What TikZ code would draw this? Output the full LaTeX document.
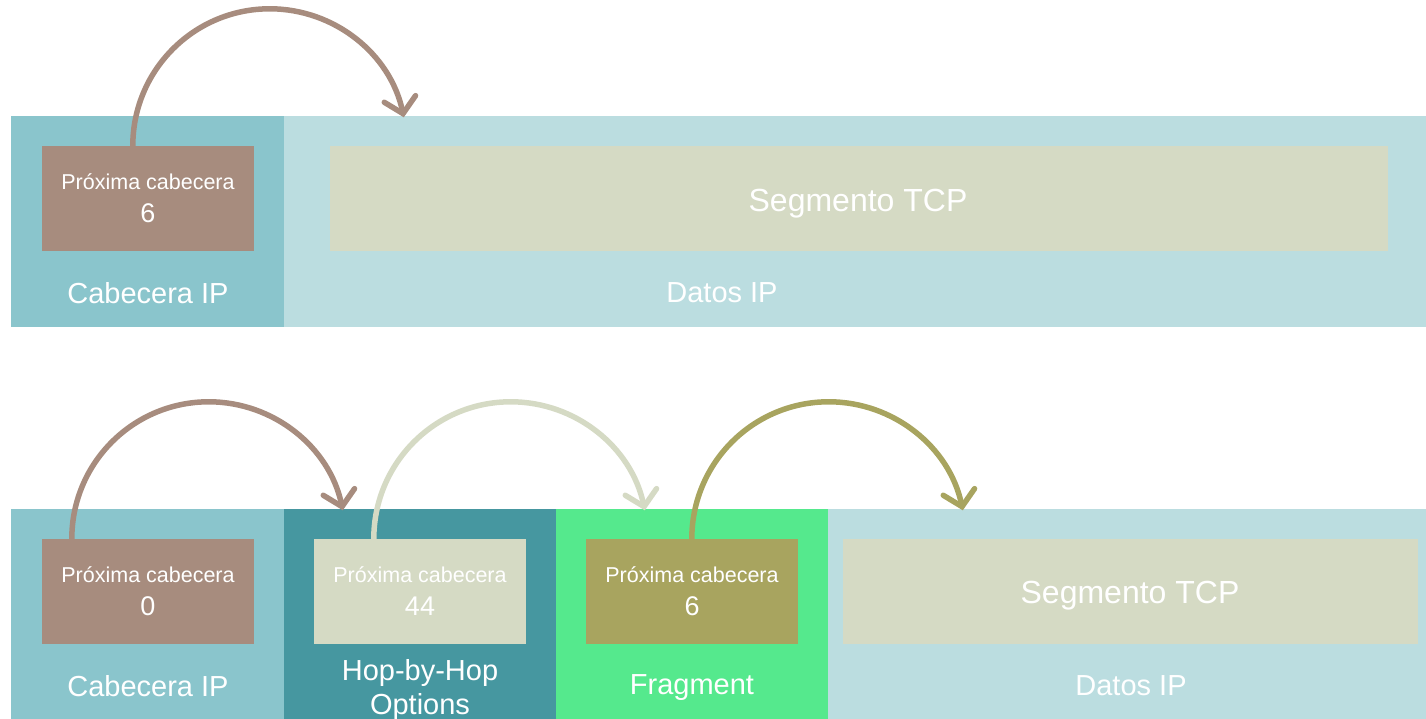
\documentclass[tikz,border=0pt]{standalone}
\usepackage{fontspec}
\setmainfont{Liberation Sans}
\usetikzlibrary{arrows.meta}
\definecolor{cabcol}{HTML}{8AC5CC}
\definecolor{datcol}{HTML}{BBDDE0}
\definecolor{hopcol}{HTML}{4697A0}
\definecolor{fragcol}{HTML}{55E98D}
\definecolor{browncol}{HTML}{A78C7E}
\definecolor{palecol}{HTML}{D5DAC4}
\definecolor{olivecol}{HTML}{A8A45F}
\tikzset{
  block/.style={rectangle, inner sep=0pt, minimum height=#1},
  field/.style={rectangle, inner sep=0pt, minimum height=105pt, text=white, align=center,
    font=\fontsize{27}{33}\selectfont},
  lbl/.style={text=white, font=\fontsize{29}{34}\selectfont, align=center},
  seglbl/.style={text=white, font=\fontsize{32}{36}\selectfont, anchor=base},
  hop/.style={line width=5.5pt, -{Straight Barb[length=15pt,width=32pt,line cap=round]}}
}
\newcommand{\nexthdr}[1]{{\fontsize{21.5}{33}\selectfont Próxima cabecera}\\{\fontsize{27}{33}\selectfont #1}}
\begin{document}
\begin{tikzpicture}[x=1pt,y=1pt]
  \useasboundingbox (0,0) rectangle (1426,719);
  % paquete sin extensiones
  \node[block=211pt, fill=cabcol, minimum width=273pt] (cab1) at (147.5,497.5) {};
  \node[block=211pt, fill=datcol, minimum width=1142pt] (dat1) at (855,497.5) {};
  \node[field, fill=browncol, minimum width=212pt] (prox1) at (148,520.5) {\nexthdr{6}};
  \node[field, fill=palecol, minimum width=1058pt] (seg1) at (859,520.5) {};
  \node[seglbl] (seg1lbl) at (858,507) {Segmento TCP};
  \node[lbl] (cab1lbl) at (148,426) {Cabecera IP};
  \node[lbl] (dat1lbl) at (722,426) {Datos IP};
  % paquete con cabeceras de extension
  \node[block=210pt, fill=cabcol, minimum width=273pt] (cab2) at (147.5,105) {};
  \node[block=210pt, fill=hopcol, minimum width=272pt] (hop2) at (420,105) {};
  \node[block=210pt, fill=fragcol, minimum width=272pt] (frag2) at (692,105) {};
  \node[block=210pt, fill=datcol, minimum width=598pt] (dat2) at (1127,105) {};
  \node[field, fill=browncol, minimum width=212pt] (prox2) at (148,127.5) {\nexthdr{0}};
  \node[field, fill=palecol, minimum width=212pt] (prox3) at (420,127.5) {\nexthdr{44}};
  \node[field, fill=olivecol, minimum width=212pt] (prox4) at (692,127.5) {\nexthdr{6}};
  \node[field, fill=palecol, minimum width=575pt] (seg2) at (1130.5,127.5) {};
  \node[seglbl] (seg2lbl) at (1130,115) {Segmento TCP};
  \node[lbl] (cab2lbl) at (148,33) {Cabecera IP};
  \node[lbl] (hop2lbl) at (420,29) {Hop-by-Hop\\Options};
  \node[lbl] (frag2lbl) at (692,31) {Fragment};
  \node[lbl] (dat2lbl) at (1131,33) {Datos IP};
  % saltos
  \draw[hop, browncol] ([xshift=91pt]prox1.north west) arc[start angle=180, end angle=12, radius=137pt];
  \draw[hop, browncol] ([xshift=30pt]prox2.north west) arc[start angle=180, end angle=12, radius=137pt];
  \draw[hop, palecol] ([xshift=60pt]prox3.north west) arc[start angle=180, end angle=12, radius=137pt];
  \draw[hop, olivecol] ([xshift=106pt]prox4.north west) arc[start angle=180, end angle=12, radius=137pt];
\end{tikzpicture}
\end{document}
